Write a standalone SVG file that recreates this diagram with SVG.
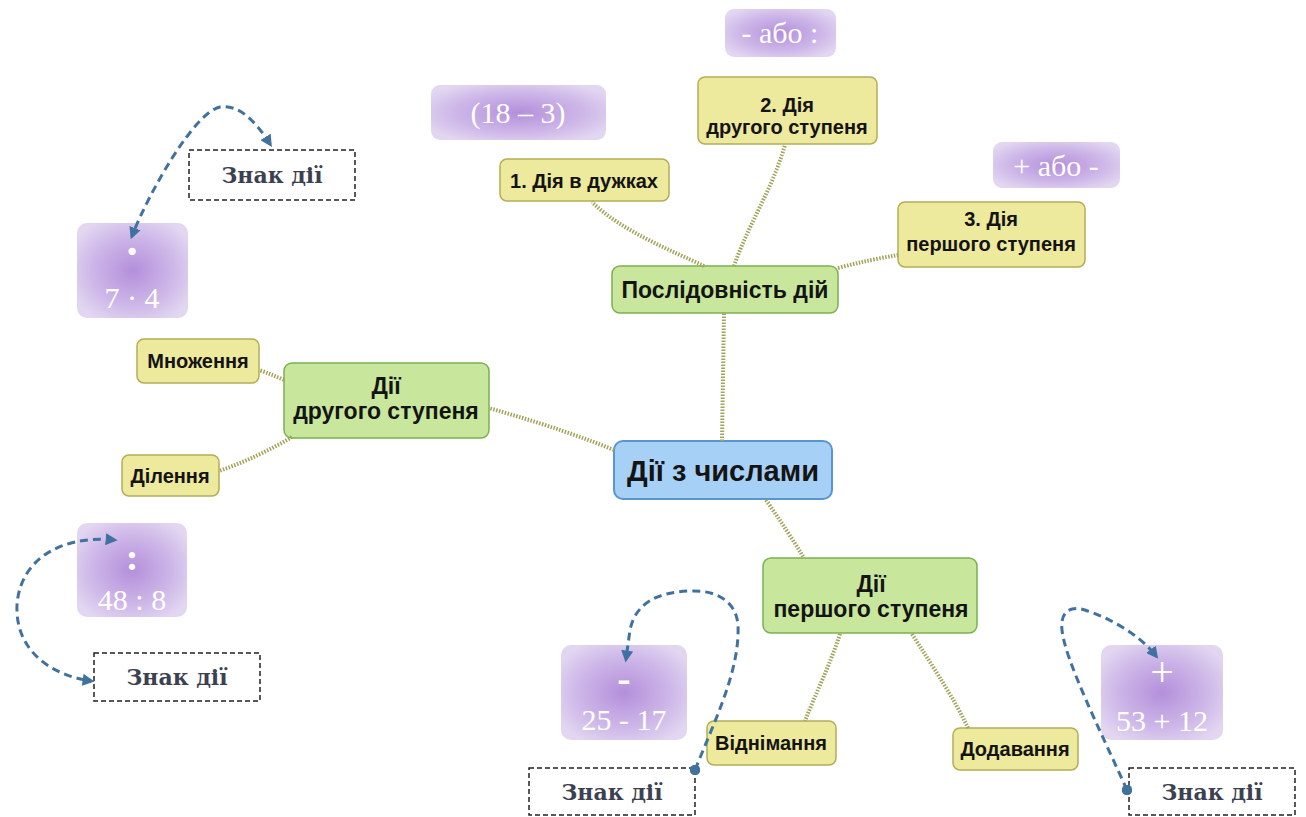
<svg xmlns="http://www.w3.org/2000/svg" width="1306" height="817" viewBox="0 0 1306 817">
  <defs>
    <radialGradient id="lilac" cx="50%" cy="50%" r="60%">
      <stop offset="0" stop-color="#b48fdb"/>
      <stop offset="0.6" stop-color="#cdb6e8"/>
      <stop offset="1" stop-color="#e2d6f1"/>
    </radialGradient>
    <marker id="arrow" viewBox="0 0 10 10" refX="7" refY="5" markerWidth="4" markerHeight="4" orient="auto-start-reverse">
      <path d="M0,0 L10,5 L0,10 Z" fill="#41729f"/>
    </marker>
    <marker id="dot" viewBox="0 0 10 10" refX="5" refY="5" markerWidth="3.5" markerHeight="3.5">
      <circle cx="5" cy="5" r="5" fill="#41729f"/>
    </marker>
  </defs>
  <style>
    .main { fill: #a7d0f6; stroke: #5a95cc; stroke-width: 2; }
    .topic { fill: #c8e79c; stroke: #7ab052; stroke-width: 1.5; }
    .leaf { fill: #ede99d; stroke: #b3ad58; stroke-width: 1.5; }
    .chip { fill: url(#lilac); }
    .sign { fill: #ffffff; stroke: #222222; stroke-width: 1.5; stroke-dasharray: 5 3; }
    .label { font-family: "Liberation Sans", Arial, sans-serif; font-weight: bold; fill: #141414; text-anchor: middle; }
    .leaf-t { font-size: 20px; }
    .topic-t { font-size: 23px; }
    .math { font-family: "Liberation Serif", "Times New Roman", serif; fill: #ffffff; text-anchor: middle; font-size: 30px; }
    .sym { font-family: "Liberation Serif", "Times New Roman", serif; fill: #ffffff; text-anchor: middle; }
    .sigtext { font-family: "DejaVu Serif", "Liberation Serif", serif; font-weight: bold; fill: #3b4150; text-anchor: middle; font-size: 22px; }
    .link { fill: none; stroke: #a3a35a; stroke-width: 4; stroke-dasharray: 1.5 1.5; }
    .jump { fill: none; stroke: #41729f; stroke-width: 3; stroke-dasharray: 8 5; }
  </style>

  <g id="center">
    <rect class="main" x="614" y="441" width="218" height="58" rx="9"/>
    <text class="label" x="723" y="481" font-size="29">Дії з числами</text>
  </g>

  <g id="order">
    <rect class="topic" x="612" y="266" width="226" height="47" rx="8"/>
    <text class="label topic-t" x="725" y="298">Послідовність дій</text>
  </g>
  <g id="step-1">
    <rect class="leaf" x="500" y="159" width="169" height="42" rx="7"/>
    <text class="label leaf-t" x="584" y="188">1. Дія в дужках</text>
  </g>
  <g id="step-2">
    <rect class="leaf" x="698" y="77" width="179" height="67" rx="7"/>
    <text class="label leaf-t" x="787" y="112">2. Дія</text>
    <text class="label leaf-t" x="787" y="134">другого ступеня</text>
  </g>
  <g id="step-3">
    <rect class="leaf" x="898" y="202" width="187" height="65" rx="7"/>
    <text class="label leaf-t" x="991" y="226">3. Дія</text>
    <text class="label leaf-t" x="991" y="251">першого ступеня</text>
  </g>

  <g id="second-degree">
    <rect class="topic" x="284" y="363" width="205" height="75" rx="8"/>
    <text class="label topic-t" x="386" y="394">Дії</text>
    <text class="label topic-t" x="386" y="419">другого ступеня</text>
  </g>
  <g id="multiply">
    <rect class="leaf" x="137" y="339" width="122" height="44" rx="7"/>
    <text class="label leaf-t" x="198" y="368">Множення</text>
  </g>
  <g id="divide">
    <rect class="leaf" x="122" y="455" width="97" height="41" rx="7"/>
    <text class="label leaf-t" x="170" y="483">Ділення</text>
  </g>

  <g id="first-degree">
    <rect class="topic" x="763" y="558" width="214" height="75" rx="8"/>
    <text class="label topic-t" x="871" y="592">Дії</text>
    <text class="label topic-t" x="871" y="617">першого ступеня</text>
  </g>
  <g id="subtract">
    <rect class="leaf" x="707" y="721" width="129" height="44" rx="7"/>
    <text class="label leaf-t" x="771" y="750">Віднімання</text>
  </g>
  <g id="add">
    <rect class="leaf" x="953" y="728" width="125" height="42" rx="7"/>
    <text class="label leaf-t" x="1015" y="756">Додавання</text>
  </g>

  <!-- lilac example chips -->
  <g id="chip-brackets">
    <rect class="chip" x="431" y="85" width="175" height="55" rx="9"/>
    <text class="math" x="518" y="123">(18 – 3)</text>
  </g>
  <g id="chip-second">
    <rect class="chip" x="725" y="9" width="111" height="48" rx="9"/>
    <text class="math" x="780" y="43">- або :</text>
  </g>
  <g id="chip-first">
    <rect class="chip" x="993" y="142" width="127" height="46" rx="9"/>
    <text class="math" x="1056" y="176">+ або -</text>
  </g>
  <g id="chip-multiply">
    <rect class="chip" x="77" y="223" width="111" height="95" rx="10"/>
    <text class="sym" x="132" y="266" font-size="44" font-weight="bold">·</text>
    <text class="math" x="132" y="308">7 · 4</text>
  </g>
  <g id="chip-divide">
    <rect class="chip" x="77" y="523" width="110" height="94" rx="10"/>
    <text class="sym" x="132" y="570" font-size="38" font-weight="bold">:</text>
    <text class="math" x="132" y="610">48 : 8</text>
  </g>
  <g id="chip-subtract">
    <rect class="chip" x="561" y="645" width="126" height="95" rx="10"/>
    <text class="sym" x="624" y="692" font-size="40" font-weight="bold">-</text>
    <text class="math" x="624" y="730">25 - 17</text>
  </g>
  <g id="chip-add">
    <rect class="chip" x="1101" y="645" width="122" height="95" rx="10"/>
    <text class="sym" x="1162" y="686" font-size="42">+</text>
    <text class="math" x="1162" y="731">53 + 12</text>
  </g>

  <!-- "sign" captions -->
  <g id="sign-top">
    <rect class="sign" x="189" y="150" width="166" height="50"/>
    <text class="sigtext" x="272" y="183">Знак дії</text>
  </g>
  <g id="sign-left">
    <rect class="sign" x="94" y="653" width="166" height="48"/>
    <text class="sigtext" x="177" y="685">Знак дії</text>
  </g>
  <g id="sign-middle">
    <rect class="sign" x="529" y="768" width="166" height="47"/>
    <text class="sigtext" x="612" y="800">Знак дії</text>
  </g>
  <g id="sign-right">
    <rect class="sign" x="1129" y="768" width="166" height="47"/>
    <text class="sigtext" x="1212" y="800">Знак дії</text>
  </g>

  <!-- dotted branches of the mind map, then dashed sign pointers on top -->
  <g id="connectors">
    <path class="link" d="M722,441 L724,313"/>
    <path class="link" d="M704,266 C670,250 620,230 592,202"/>
    <path class="link" d="M734,266 C748,225 772,190 785,145"/>
    <path class="link" d="M838,268 C860,262 880,258 898,255"/>
    <path class="link" d="M614,450 C570,432 530,420 489,408"/>
    <path class="link" d="M284,380 C275,376 268,373 259,370"/>
    <path class="link" d="M292,437 C270,450 245,462 219,471"/>
    <path class="link" d="M766,500 C780,520 793,540 804,558"/>
    <path class="link" d="M840,634 C830,665 815,695 805,721"/>
    <path class="link" d="M912,634 C935,670 955,700 968,728"/>
    <path class="jump" d="M270,144 C255,120 238,104 220,107 C195,112 150,190 132,236" marker-start="url(#arrow)" marker-end="url(#arrow)"/>
    <path class="jump" d="M114,540 C60,535 20,560 17,605 C15,650 50,675 91,681" marker-start="url(#arrow)" marker-end="url(#arrow)"/>
    <path class="jump" d="M695,770 C715,720 740,670 738,625 C736,600 715,590 690,591 C655,592 635,605 630,630 L626,659" marker-start="url(#dot)" marker-end="url(#arrow)"/>
    <path class="jump" d="M1127,790 C1100,730 1065,660 1062,630 C1060,612 1070,605 1085,610 C1110,618 1140,635 1156,656" marker-start="url(#dot)" marker-end="url(#arrow)"/>
  </g>
</svg>
